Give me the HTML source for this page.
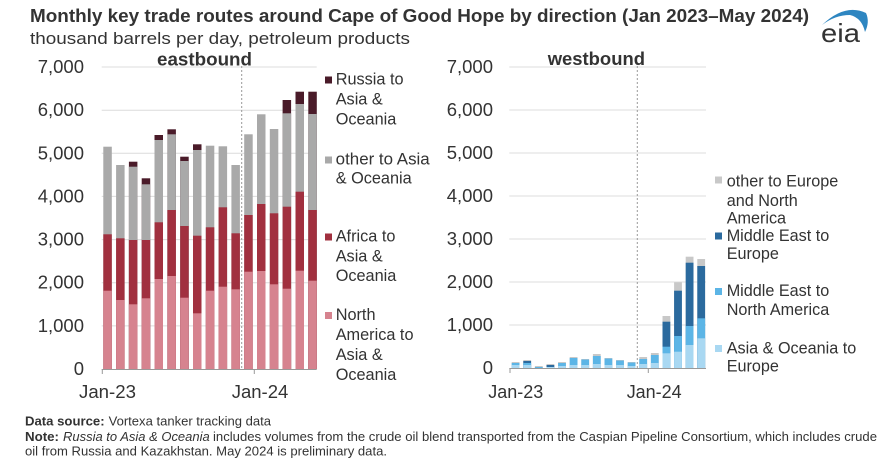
<!DOCTYPE html>
<html><head><meta charset="utf-8"><style>
html,body{margin:0;padding:0;background:#fff;}
svg{display:block;}
text{font-family:"Liberation Sans",Arial,sans-serif;fill:#333;}
</style></head><body>
<svg width="892" height="465" viewBox="0 0 892 465" xmlns="http://www.w3.org/2000/svg">
<rect width="892" height="465" fill="#fff"/>
<!-- Title -->
<text x="30" y="22" font-size="18.5" font-weight="bold" textLength="779" lengthAdjust="spacingAndGlyphs">Monthly key trade routes around Cape of Good Hope by direction (Jan 2023–May 2024)</text>
<text x="30" y="44" font-size="17" textLength="380" lengthAdjust="spacingAndGlyphs">thousand barrels per day, petroleum products</text>
<!-- eia logo -->
<path d="M822,25 Q845,3 866,13 Q870,22 865,32 Q862,18 850,15 Q835,15 822,25 Z" fill="#2e86c1"/>
<text x="821" y="42" font-size="26" textLength="39" lengthAdjust="spacingAndGlyphs" fill="#333">eia</text>

<!-- LEFT CHART gridlines -->
<g stroke="#dcdcdc" stroke-width="1">
<line x1="101.7" x2="316.7" y1="67" y2="67"/>
<line x1="101.7" x2="316.7" y1="110.2" y2="110.2"/>
<line x1="101.7" x2="316.7" y1="153.3" y2="153.3"/>
<line x1="101.7" x2="316.7" y1="196.4" y2="196.4"/>
<line x1="101.7" x2="316.7" y1="239.6" y2="239.6"/>
<line x1="101.7" x2="316.7" y1="282.7" y2="282.7"/>
<line x1="101.7" x2="316.7" y1="325.9" y2="325.9"/>
</g>
<g font-size="18.5" text-anchor="end">
<text x="84" y="73">7,000</text>
<text x="84" y="116.2">6,000</text>
<text x="84" y="159.3">5,000</text>
<text x="84" y="202.4">4,000</text>
<text x="84" y="245.6">3,000</text>
<text x="84" y="288.7">2,000</text>
<text x="84" y="331.9">1,000</text>
<text x="84" y="375">0</text>
</g>
<text x="157" y="65.5" font-size="18.5" font-weight="bold" textLength="95" lengthAdjust="spacingAndGlyphs">eastbound</text>

<!-- left bars: painter order russia, gray, red, pink -->
<g>
<!-- russia -->
<g fill="#4a1b29">
<rect x="128.9" y="161.7" width="8.5" height="207.3"/>
<rect x="141.7" y="178.3" width="8.5" height="190.7"/>
<rect x="154.5" y="135" width="8.5" height="234"/>
<rect x="167.4" y="129.3" width="8.5" height="239.7"/>
<rect x="180.2" y="156.7" width="8.5" height="212.3"/>
<rect x="193.0" y="144.3" width="8.5" height="224.7"/>
<rect x="282.6" y="100" width="8.5" height="269"/>
<rect x="295.5" y="91.7" width="8.5" height="277.3"/>
<rect x="308.3" y="91.7" width="8.5" height="277.3"/>
</g>
<!-- gray -->
<g fill="#a9a9a9">
<rect x="103.3" y="146.7" width="8.5" height="222.3"/>
<rect x="116.1" y="165" width="8.5" height="204"/>
<rect x="128.9" y="166.7" width="8.5" height="202.3"/>
<rect x="141.7" y="184.3" width="8.5" height="184.7"/>
<rect x="154.5" y="140" width="8.5" height="229"/>
<rect x="167.4" y="134.3" width="8.5" height="234.7"/>
<rect x="180.2" y="161" width="8.5" height="208"/>
<rect x="193.0" y="150" width="8.5" height="219"/>
<rect x="205.8" y="145.7" width="8.5" height="223.3"/>
<rect x="218.6" y="146.3" width="8.5" height="222.7"/>
<rect x="231.4" y="165" width="8.5" height="204"/>
<rect x="244.2" y="134.3" width="8.5" height="234.7"/>
<rect x="257.0" y="114.3" width="8.5" height="254.7"/>
<rect x="269.8" y="129" width="8.5" height="240"/>
<rect x="282.6" y="113.3" width="8.5" height="255.7"/>
<rect x="295.5" y="104" width="8.5" height="265"/>
<rect x="308.3" y="114" width="8.5" height="255"/>
</g>
<!-- red -->
<g fill="#a1303f">
<rect x="103.3" y="234.3" width="8.5" height="134.7"/>
<rect x="116.1" y="238.3" width="8.5" height="130.7"/>
<rect x="128.9" y="240" width="8.5" height="129"/>
<rect x="141.7" y="240" width="8.5" height="129"/>
<rect x="154.5" y="222.3" width="8.5" height="146.7"/>
<rect x="167.4" y="210" width="8.5" height="159"/>
<rect x="180.2" y="226" width="8.5" height="143"/>
<rect x="193.0" y="235.7" width="8.5" height="133.3"/>
<rect x="205.8" y="227.3" width="8.5" height="141.7"/>
<rect x="218.6" y="207.3" width="8.5" height="161.7"/>
<rect x="231.4" y="233.3" width="8.5" height="135.7"/>
<rect x="244.2" y="215" width="8.5" height="154"/>
<rect x="257.0" y="204" width="8.5" height="165"/>
<rect x="269.8" y="213.3" width="8.5" height="155.7"/>
<rect x="282.6" y="206.7" width="8.5" height="162.3"/>
<rect x="295.5" y="191.7" width="8.5" height="177.3"/>
<rect x="308.3" y="210" width="8.5" height="159"/>
</g>
<!-- pink -->
<g fill="#d6838f">
<rect x="103.3" y="290.7" width="8.5" height="78.3"/>
<rect x="116.1" y="300" width="8.5" height="69"/>
<rect x="128.9" y="304.3" width="8.5" height="64.7"/>
<rect x="141.7" y="298.3" width="8.5" height="70.7"/>
<rect x="154.5" y="279" width="8.5" height="90"/>
<rect x="167.4" y="276" width="8.5" height="93"/>
<rect x="180.2" y="297.7" width="8.5" height="71.3"/>
<rect x="193.0" y="313.3" width="8.5" height="55.7"/>
<rect x="205.8" y="290.7" width="8.5" height="78.3"/>
<rect x="218.6" y="286.7" width="8.5" height="82.3"/>
<rect x="231.4" y="289.3" width="8.5" height="79.7"/>
<rect x="244.2" y="271.7" width="8.5" height="97.3"/>
<rect x="257.0" y="271" width="8.5" height="98"/>
<rect x="269.8" y="284.3" width="8.5" height="84.7"/>
<rect x="282.6" y="288.7" width="8.5" height="80.3"/>
<rect x="295.5" y="270.7" width="8.5" height="98.3"/>
<rect x="308.3" y="280.7" width="8.5" height="88.3"/>
</g>
</g>
<line x1="241.7" x2="241.7" y1="66" y2="369" stroke="#999" stroke-width="1" stroke-dasharray="2,2"/>
<line x1="101.7" x2="316.7" y1="369.5" y2="369.5" stroke="#999" stroke-width="1"/>
<line x1="102.3" x2="102.3" y1="369" y2="374" stroke="#999"/>
<line x1="254.3" x2="254.3" y1="369" y2="374" stroke="#999"/>
<g font-size="18.5">
<text x="79" y="398" textLength="57" lengthAdjust="spacingAndGlyphs">Jan-23</text>
<text x="231.7" y="398" textLength="56.6" lengthAdjust="spacingAndGlyphs">Jan-24</text>
</g>

<!-- left legend -->
<g fill="#4a1b29"><rect x="325" y="76.5" width="7" height="7"/></g>
<g fill="#a9a9a9"><rect x="325" y="156.5" width="7" height="7"/></g>
<g fill="#a1303f"><rect x="325" y="233.5" width="7" height="7"/></g>
<g fill="#d6838f"><rect x="325" y="312" width="7" height="7"/></g>
<g font-size="16.3">
<text x="335.7" y="84.3">Russia to</text>
<text x="335.7" y="104.3">Asia &amp;</text>
<text x="335.7" y="124.3">Oceania</text>
<text x="335.7" y="164.3" textLength="94" lengthAdjust="spacingAndGlyphs">other to Asia</text>
<text x="335.7" y="183.3">&amp; Oceania</text>
<text x="335.7" y="241.7">Africa to</text>
<text x="335.7" y="261.7">Asia &amp;</text>
<text x="335.7" y="281">Oceania</text>
<text x="335.7" y="320">North</text>
<text x="335.7" y="340">America to</text>
<text x="335.7" y="360">Asia &amp;</text>
<text x="335.7" y="380">Oceania</text>
</g>

<!-- RIGHT CHART gridlines -->
<g stroke="#dcdcdc" stroke-width="1">
<line x1="509.3" x2="706" y1="67" y2="67"/>
<line x1="509.3" x2="706" y1="110" y2="110"/>
<line x1="509.3" x2="706" y1="153" y2="153"/>
<line x1="509.3" x2="706" y1="196" y2="196"/>
<line x1="509.3" x2="706" y1="239" y2="239"/>
<line x1="509.3" x2="706" y1="282" y2="282"/>
<line x1="509.3" x2="706" y1="325" y2="325"/>
</g>
<g font-size="18.5" text-anchor="end">
<text x="493" y="73">7,000</text>
<text x="493" y="116">6,000</text>
<text x="493" y="159">5,000</text>
<text x="493" y="202">4,000</text>
<text x="493" y="245">3,000</text>
<text x="493" y="288">2,000</text>
<text x="493" y="331">1,000</text>
<text x="493" y="374">0</text>
</g>
<text x="547.7" y="65" font-size="18.5" font-weight="bold" textLength="97.3" lengthAdjust="spacingAndGlyphs">westbound</text>

<!-- right bars: painter order gray, dark, medium, light -->
<g fill="#c8c8c8">
<rect x="511.7" y="362" width="7.8" height="6"/>
<rect x="523.3" y="360" width="7.8" height="8"/>
<rect x="534.9" y="366" width="7.8" height="2"/>
<rect x="546.5" y="364" width="7.8" height="4"/>
<rect x="558.1" y="362" width="7.8" height="6"/>
<rect x="569.7" y="357" width="7.8" height="11"/>
<rect x="581.3" y="359" width="7.8" height="9"/>
<rect x="592.9" y="354" width="7.8" height="14"/>
<rect x="604.5" y="358" width="7.8" height="10"/>
<rect x="616.1" y="360" width="7.8" height="8"/>
<rect x="627.7" y="362" width="7.8" height="6"/>
<rect x="639.3" y="357" width="7.8" height="11"/>
<rect x="650.9" y="353" width="7.8" height="15"/>
<rect x="662.5" y="316" width="7.8" height="52"/>
<rect x="674.1" y="282.3" width="7.8" height="85.7"/>
<rect x="685.7" y="256.7" width="7.8" height="111.3"/>
<rect x="697.3" y="259" width="7.8" height="109"/>
</g>
<g fill="#2b6a9e">
<rect x="523.3" y="361" width="7.8" height="7"/>
<rect x="546.5" y="365" width="7.8" height="3"/>
<rect x="662.5" y="321.7" width="7.8" height="46.3"/>
<rect x="674.1" y="290.7" width="7.8" height="77.3"/>
<rect x="685.7" y="262.7" width="7.8" height="105.3"/>
<rect x="697.3" y="266" width="7.8" height="102"/>
</g>
<g fill="#5cb5e6">
<rect x="511.7" y="363" width="7.8" height="5"/>
<rect x="523.3" y="363" width="7.8" height="5"/>
<rect x="534.9" y="367" width="7.8" height="1"/>
<rect x="558.1" y="363" width="7.8" height="5"/>
<rect x="569.7" y="358" width="7.8" height="10"/>
<rect x="581.3" y="359.5" width="7.8" height="8.5"/>
<rect x="592.9" y="356" width="7.8" height="12"/>
<rect x="604.5" y="358.5" width="7.8" height="9.5"/>
<rect x="616.1" y="360.5" width="7.8" height="7.5"/>
<rect x="627.7" y="362.5" width="7.8" height="5.5"/>
<rect x="639.3" y="359" width="7.8" height="9"/>
<rect x="650.9" y="355" width="7.8" height="13"/>
<rect x="662.5" y="346.7" width="7.8" height="21.3"/>
<rect x="674.1" y="336" width="7.8" height="32"/>
<rect x="685.7" y="326" width="7.8" height="42"/>
<rect x="697.3" y="318.3" width="7.8" height="49.7"/>
</g>
<g fill="#a9d8f2">
<rect x="511.7" y="365" width="7.8" height="3"/>
<rect x="523.3" y="365" width="7.8" height="3"/>
<rect x="546.5" y="367" width="7.8" height="1"/>
<rect x="558.1" y="366" width="7.8" height="2"/>
<rect x="569.7" y="365" width="7.8" height="3"/>
<rect x="581.3" y="365" width="7.8" height="3"/>
<rect x="592.9" y="364" width="7.8" height="4"/>
<rect x="604.5" y="365" width="7.8" height="3"/>
<rect x="616.1" y="365" width="7.8" height="3"/>
<rect x="627.7" y="366" width="7.8" height="2"/>
<rect x="639.3" y="364" width="7.8" height="4"/>
<rect x="650.9" y="363" width="7.8" height="5"/>
<rect x="662.5" y="353.3" width="7.8" height="14.7"/>
<rect x="674.1" y="351.7" width="7.8" height="16.3"/>
<rect x="685.7" y="345" width="7.8" height="23"/>
<rect x="697.3" y="338.3" width="7.8" height="29.7"/>
</g>
<line x1="637.3" x2="637.3" y1="66" y2="368" stroke="#999" stroke-width="1" stroke-dasharray="2,2"/>
<line x1="509.3" x2="706" y1="368.5" y2="368.5" stroke="#999" stroke-width="1"/>
<line x1="510" x2="510" y1="368" y2="373" stroke="#999"/>
<line x1="648.3" x2="648.3" y1="368" y2="373" stroke="#999"/>
<g font-size="18.5">
<text x="488.3" y="398" textLength="55" lengthAdjust="spacingAndGlyphs">Jan-23</text>
<text x="626.7" y="398" textLength="55" lengthAdjust="spacingAndGlyphs">Jan-24</text>
</g>

<!-- right legend -->
<rect x="715" y="176.5" width="7" height="7" fill="#c8c8c8"/>
<rect x="715" y="232.5" width="7" height="7" fill="#2b6a9e"/>
<rect x="715" y="288" width="7" height="7" fill="#5cb5e6"/>
<rect x="715" y="345" width="7" height="7" fill="#a9d8f2"/>
<g font-size="16.2">
<text x="726.7" y="186.7" textLength="111.6" lengthAdjust="spacingAndGlyphs">other to Europe</text>
<text x="726.7" y="206">and North</text>
<text x="726.7" y="223.3">America</text>
<text x="726.7" y="241">Middle East to</text>
<text x="726.7" y="259">Europe</text>
<text x="726.7" y="296">Middle East to</text>
<text x="726.7" y="315">North America</text>
<text x="726.7" y="353.3">Asia &amp; Oceania to</text>
<text x="726.7" y="371.7">Europe</text>
</g>

<!-- footnotes -->
<g font-size="12.5">
<text x="25" y="425.5" font-weight="bold" textLength="79.6" lengthAdjust="spacingAndGlyphs">Data source:</text>
<text x="108.6" y="425.5" textLength="162.4" lengthAdjust="spacingAndGlyphs">Vortexa tanker tracking data</text>
<text x="25" y="441" font-weight="bold" textLength="34" lengthAdjust="spacingAndGlyphs">Note:</text>
<text x="63" y="441" font-style="italic" textLength="146.7" lengthAdjust="spacingAndGlyphs">Russia to Asia &amp; Oceania</text>
<text x="213" y="441" textLength="664" lengthAdjust="spacingAndGlyphs">includes volumes from the crude oil blend transported from the Caspian Pipeline Consortium, which includes crude</text>
<text x="25" y="455.5" textLength="362" lengthAdjust="spacingAndGlyphs">oil from Russia and Kazakhstan. May 2024 is preliminary data.</text>
</g>
</svg>
</body></html>
